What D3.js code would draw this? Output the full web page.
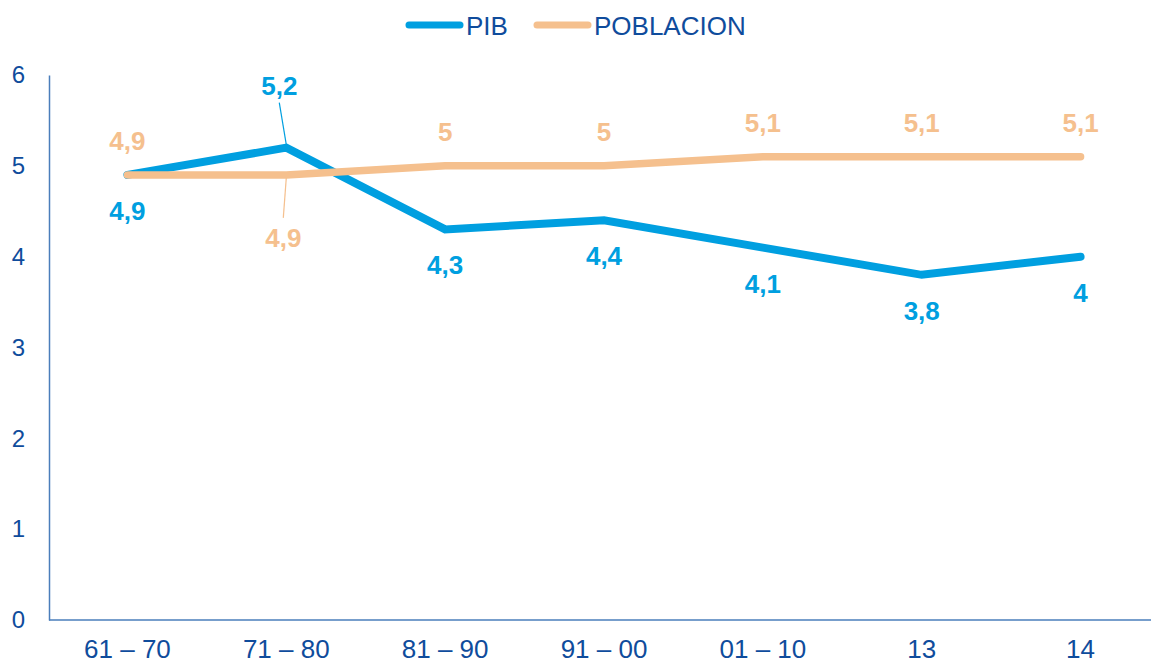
<!DOCTYPE html>
<html>
<head>
<meta charset="utf-8">
<script src="https://d3js.org/d3.v7.min.js"></script>
<style>
  body { margin: 0; background: #fff; }
  text { font-family: "Liberation Sans", Arial, sans-serif; }
</style>
</head>
<body>
<svg id="chart" width="1151" height="665"></svg>
<script>
// data
var periods = ["61 – 70", "71 – 80", "81 – 90", "91 – 00", "01 – 10", "13", "14"];
var pib = [4.9, 5.2, 4.3, 4.4, 4.1, 3.8, 4.0];
var poblacion = [4.9, 4.9, 5.0, 5.0, 5.1, 5.1, 5.1];
var yTicks = [0, 1, 2, 3, 4, 5, 6];
// where each label goes: a = above, b = below, A/B = far with leader line
var pibPlace = ["b", "A", "b", "b", "b", "b", "b"];
var pobPlace = ["a", "B", "a", "a", "a", "a", "a"];

var blue = "#009FE0", orange = "#F5C08E", axisBlue = "#4A7EBB", textBlue = "#0F4C9C";
var fmt = function(v) { return String(v).replace(".", ","); };

var svg = d3.select("#chart");

var x = d3.scaleBand().domain(periods).range([48, 1160]);
var y = d3.scaleLinear().domain([0, 6]).range([620, 75]);
var cx = function(d, i) { return x(periods[i]) + x.bandwidth() / 2; };

// axes
var yAxis = d3.axisLeft(y).tickValues(yTicks).tickFormat(d3.format("d")).tickSize(0).tickPadding(24);
svg.append("g").attr("transform", "translate(49,0)").call(yAxis)
  .call(g => g.select(".domain").attr("stroke", axisBlue).attr("stroke-width", 1.5))
  .call(g => g.selectAll("text").attr("fill", textBlue).attr("font-size", 24));

var xAxis = d3.axisBottom(x).tickSize(0).tickPadding(20);
var gx = svg.append("g").attr("transform", "translate(0,620)").call(xAxis);
gx.select(".domain").attr("d", "M49,0H1151").attr("stroke", axisBlue).attr("stroke-width", 1.5);
gx.selectAll("text").attr("fill", textBlue).attr("font-size", 26);

// lines
var line = d3.line().x(cx).y(d => y(d));
svg.append("path").datum(pib).attr("d", line).attr("fill", "none")
  .attr("stroke", blue).attr("stroke-width", 8).attr("stroke-linecap", "round").attr("stroke-linejoin", "miter");
svg.append("path").datum(poblacion).attr("d", line).attr("fill", "none")
  .attr("stroke", orange).attr("stroke-width", 7.5).attr("stroke-linecap", "round").attr("stroke-linejoin", "round");

// data labels
function labels(vals, place, color) {
  var off = { a: -34, b: 36, A: -62, B: 63 };
  var g = svg.append("g");
  vals.forEach(function(v, i) {
    var px = cx(v, i), py = y(v), p = place[i];
    var lx = px, ly = py + off[p];
    if (p === "A") {
      lx = px - 7;
      g.append("line").attr("x1", px).attr("y1", py - 3).attr("x2", lx).attr("y2", ly + 17)
        .attr("stroke", color).attr("stroke-width", 1.2);
    }
    if (p === "B") {
      lx = px - 3;
      g.append("line").attr("x1", px).attr("y1", py + 3).attr("x2", lx).attr("y2", ly - 20)
        .attr("stroke", color).attr("stroke-width", 1.2);
    }
    g.append("text").attr("x", lx).attr("y", ly).attr("text-anchor", "middle")
      .attr("dominant-baseline", "central").attr("font-size", 26).attr("font-weight", "bold")
      .attr("fill", color).text(fmt(v));
  });
}
labels(pib, pibPlace, blue);
labels(poblacion, pobPlace, orange);

// legend
var legend = [{ name: "PIB", color: blue, x: 406 }, { name: "POBLACION", color: orange, x: 534 }];
var lg = svg.append("g").selectAll("g").data(legend).join("g");
lg.append("line").attr("x1", d => d.x + 3).attr("x2", d => d.x + 54).attr("y1", 25).attr("y2", 25)
  .attr("stroke", d => d.color).attr("stroke-width", 7).attr("stroke-linecap", "round");
lg.append("text").attr("x", d => d.x + 60).attr("y", 26).attr("dominant-baseline", "central")
  .attr("font-size", 26).attr("fill", textBlue).text(d => d.name);
</script>
</body>
</html>
